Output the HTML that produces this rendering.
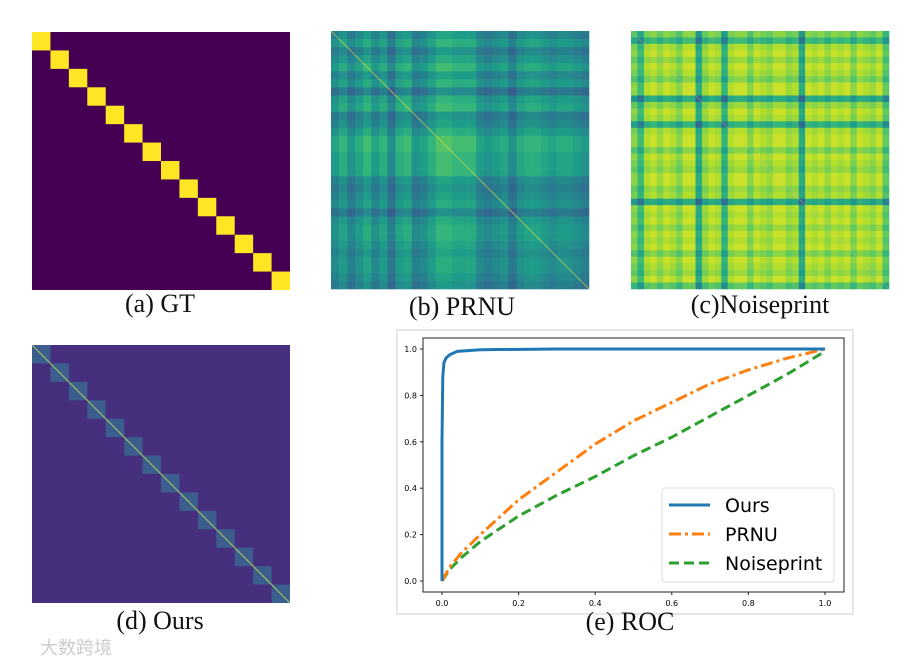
<!DOCTYPE html>
<html><head><meta charset="utf-8"><style>
body{margin:0;background:#fff;width:916px;height:662px;overflow:hidden;font-family:"Liberation Serif",serif}
.cap{position:absolute;font-size:26px;color:#111;white-space:nowrap;transform:translateX(-50%)}
</style></head><body>
<svg id="fig" width="916" height="662" style="position:absolute;left:0;top:0" xmlns="http://www.w3.org/2000/svg">
<g id="gt"></g>
<g id="prnu"></g>
<g id="noise"></g>
<g id="ours"></g>
<rect x="397" y="330" width="456" height="284" fill="#fff" stroke="#ccc"/>
<g id="roc"></g>
</svg>
<div class="cap" style="left:160px;top:289px">(a) GT</div>
<div class="cap" style="left:462px;top:292px">(b) PRNU</div>
<div class="cap" style="left:760px;top:290px">(c)Noiseprint</div>
<div class="cap" style="left:160px;top:606px">(d) Ours</div>
<div class="cap" style="left:630px;top:607px">(e) ROC</div>
<div style="position:absolute;left:40px;top:634px;font:18px 'Noto Sans CJK SC',sans-serif;color:#ccc">大数跨境</div>
<script>
const NS="http://www.w3.org/2000/svg";
const prnuBands=[0.5,0.3,0.6,0.4,0.2,0.5,0.3,0.7,0.3,0.2,0.6,0.5,0.3,0.1,0.1,0.2,0.2,0.2,0.5,0.6,0.5,0.4,0.7,0.4,0.3,0.3,0.4,0.5,0.4,0.4,0.5,0.6];
const noiseBands=[0.3,0.7,0.1,0,0.2,0,0.1,0.3,0,0,0.9,0.2,0,0.1,0.8,0.1,0,0,0.3,0,0.1,0.2,0,0,0.2,0.1,0.9,0,0.1,0,0.2,0,0.1,0,0.3,0,0.1,0.2,0,0.5];
const numBlocks=14;
const rocX=[0,0.2,0.4,0.6,0.8,1.0];
const rocY=[0,0.2,0.4,0.6,0.8,1.0];
const oursF=[0,0,0.002,0.005,0.01,0.02,0.04,0.1,0.3,1];
const oursT=[0,0.6,0.88,0.94,0.96,0.975,0.99,0.997,1,1];
const prnuF=[0,0.02,0.05,0.1,0.2,0.3,0.4,0.5,0.6,0.7,0.8,0.9,1];
const prnuT=[0,0.06,0.12,0.2,0.35,0.47,0.59,0.69,0.77,0.85,0.91,0.96,1];
const npF=[0,0.02,0.05,0.1,0.2,0.3,0.4,0.5,0.6,0.7,0.8,0.9,1];
const npT=[0,0.05,0.1,0.17,0.28,0.37,0.45,0.54,0.62,0.71,0.8,0.89,0.99];
const vir=[[68,1,84],[72,40,120],[62,74,137],[49,104,142],[38,130,142],[31,158,137],[53,183,121],[110,206,88],[181,222,43],[253,231,37]];
function viridis(t){t=Math.max(0,Math.min(1,t))*9;const i=Math.min(8,Math.floor(t)),f=t-i;const a=vir[i],b=vir[i+1];return`rgb(${a.map((v,k)=>Math.round(v+(b[k]-v)*f)).join(',')})`;}
function rect(g,x,y,w,h,fill,name){const r=document.createElementNS(NS,'rect');r.setAttribute('x',x);r.setAttribute('y',y);r.setAttribute('width',w);r.setAttribute('height',h);r.setAttribute('fill',fill);


g.appendChild(r);return r;}
function line(g,x1,y1,x2,y2,st,w,name){const l=document.createElementNS(NS,'line');l.setAttribute('x1',x1);l.setAttribute('y1',y1);l.setAttribute('x2',x2);l.setAttribute('y2',y2);l.setAttribute('stroke',st);l.setAttribute('stroke-width',w);


g.appendChild(l);return l;}
function heat(id,x0,y0,S,bands,base,scale,diag){const g=document.getElementById(id);const n=bands.length,c=S/n;
for(let i=0;i<n;i++)for(let j=0;j<n;j++){rect(g,x0+j*c,y0+i*c,c+0.3,c+0.3,viridis(base-scale*(bands[i]+bands[j])),'heatmap-cell');}
line(g,x0,y0,x0+S,y0+S,diag,1,'diagonal');}
(function(){const g=document.getElementById('gt');const x0=32,y0=32,S=258,c=S/numBlocks;rect(g,x0,y0,S,S,'#440154','gt-background');
for(let i=0;i<numBlocks;i++)rect(g,x0+i*c,y0+i*c,c,c,'#fde725','gt-block');})();
heat('prnu',331,31,258,prnuBands,0.8,0.36,'rgba(220,225,70,0.6)');
heat('noise',631,31,258,noiseBands,0.92,0.33,'rgba(200,200,120,0.35)');
(function(){const g=document.getElementById('ours');const x0=32,y0=345,S=258,c=S/numBlocks;rect(g,x0,y0,S,S,'#46307e','ours-background');
for(let i=0;i<numBlocks;i++)rect(g,x0+i*c,y0+i*c,c,c,'#3b5e8d','ours-block');
line(g,x0,y0,x0+S,y0+S,'rgba(200,220,90,0.8)',1,'diagonal');})();
(function(){const g=document.getElementById('roc');const X=v=>442+v*383,Y=v=>581-v*232;
const ax=rect(g,423,338,421,254,'none','roc-axes');ax.setAttribute('stroke','#222');ax.setAttribute('stroke-width','1');
rocX.forEach(v=>{line(g,X(v),592,X(v),595,'#222',1,'x-tick');const t=document.createElementNS(NS,'text');t.setAttribute('x',X(v));t.setAttribute('y',606);t.setAttribute('text-anchor','middle');t.setAttribute('font-size','8');t.setAttribute('font-family','DejaVu Sans');t.textContent=v.toFixed(1);


g.appendChild(t);});
rocY.forEach(v=>{line(g,420,Y(v),423,Y(v),'#222',1,'y-tick');const t=document.createElementNS(NS,'text');t.setAttribute('x',417);t.setAttribute('y',Y(v)+3);t.setAttribute('text-anchor','end');t.setAttribute('font-size','8');t.setAttribute('font-family','DejaVu Sans');t.textContent=v.toFixed(1);


g.appendChild(t);});
function curve(F,T,col,dash,name){const p=document.createElementNS(NS,'polyline');p.setAttribute('points',F.map((f,i)=>X(f)+','+Y(T[i])).join(' '));p.setAttribute('fill','none');p.setAttribute('stroke',col);p.setAttribute('stroke-width','3');if(dash)p.setAttribute('stroke-dasharray',dash);


g.appendChild(p);}
curve(npF,npT,'#2ca02c','10 5','noiseprint-curve');
curve(prnuF,prnuT,'#ff7f0e','12 4 3 4','prnu-curve');
curve(oursF,oursT,'#1f77b4',null,'ours-curve');
const lg=rect(g,662,488,172,94,'#fff','legend');lg.setAttribute('stroke','#ddd');lg.setAttribute('rx','3');
const items=[['Ours','#1f77b4',null],['PRNU','#ff7f0e','12 4 3 4'],['Noiseprint','#2ca02c','10 5']];
items.forEach((it,i)=>{const y=505+i*29;const l=line(g,669,y,710,y,it[1],3,'legend-line');if(it[2])l.setAttribute('stroke-dasharray',it[2]);
const t=document.createElementNS(NS,'text');t.setAttribute('x',725);t.setAttribute('y',y+7);t.setAttribute('font-size','19');t.setAttribute('font-family','DejaVu Sans');t.textContent=it[0];


g.appendChild(t);});})();
</script>
</body></html>
